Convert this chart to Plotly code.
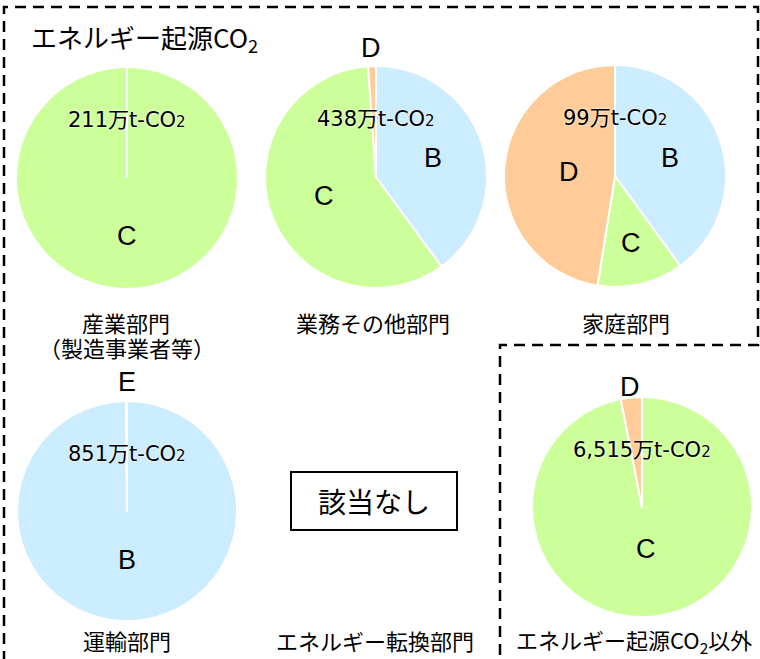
import plotly.graph_objects as go
import math

W, H = 760, 659

# ---- data ----
sectors = [["産業部門", "（製造事業者等）"], ["業務その他部門"], ["家庭部門"], ["運輸部門"],
           ["エネルギー起源CO<sub>2</sub>以外"]]
totals = ["211", "438", "99", "851", "6,515"]
labels_1 = ["C"]
values_1 = [211]
labels_2 = ["B", "C", "D"]
values_2 = [175, 258, 5]
labels_3 = ["B", "C", "D"]
values_3 = [39.6, 12.4, 47]
labels_4 = ["B", "E"]
values_4 = [850, 1]
labels_5 = ["C", "D"]
values_5 = [6313, 202]
empty_sector = "エネルギー転換部門"
empty_text = "該当なし"
main_title = "エネルギー起源CO<sub>2</sub>"

colors = {"B": "#CCECFF", "C": "#CCFF99", "D": "#FFCC99", "E": "#CCCCFF"}

# ---- layout (pixel geometry, label radial placement as fraction of radius) ----
pies = [
    dict(labels=labels_1, values=values_1, cx=127, cy=178, r=111, sector=sectors[0], total=totals[0],
         tx=126, ty=322, rho=[0.52]),
    dict(labels=labels_2, values=values_2, cx=376, cy=177, r=111, sector=sectors[1], total=totals[1],
         tx=373, ty=322, rho=[0.54, 0.5, 1.16]),
    dict(labels=labels_3, values=values_3, cx=615, cy=176, r=111, sector=sectors[2], total=totals[2],
         tx=626, ty=322, rho=[0.52, 0.62, 0.42]),
    dict(labels=labels_4, values=values_4, cx=127, cy=511, r=110, sector=sectors[3], total=totals[3],
         tx=127, ty=640, rho=[0.45, 1.17]),
    dict(labels=labels_5, values=values_5, cx=642, cy=507, r=110, sector=sectors[4], total=totals[4],
         tx=634, ty=640, rho=[0.38, 1.1]),
]

def px(x):
    return x / W

def py(y):
    return 1 - y / H

FONT = "Noto Sans CJK JP"
LATIN = "Liberation Sans, Noto Sans CJK JP"
TOTFONT = "DejaVu Sans, Noto Sans CJK JP"

fig = go.Figure()
annotations = []
shapes = []

for p in pies:
    cx, cy, r = p["cx"], p["cy"], p["r"]
    fig.add_trace(go.Pie(
        labels=p["labels"], values=p["values"], sort=False, direction="clockwise", rotation=0,
        marker=dict(colors=[colors[l] for l in p["labels"]], line=dict(color="white", width=2)),
        textinfo="none", hoverinfo="label+value", showlegend=False,
        domain=dict(x=[px(cx - r), px(cx + r)], y=[py(cy + r), py(cy - r)]),
    ))
    tot = sum(p["values"])
    cum = 0
    for lab, v, rho in zip(p["labels"], p["values"], p["rho"]):
        frac = v / tot
        mid = (cum + v / 2) / tot
        cum += v
        th = 2 * math.pi * mid
        if frac >= 0.999:
            th = math.pi
        x = cx + rho * r * math.sin(th)
        y = cy - rho * r * math.cos(th)
        annotations.append(dict(x=px(x), y=py(y), xref="paper", yref="paper", text=lab, showarrow=False,
                                font=dict(family=LATIN, size=27, color="black"), xanchor="center", yanchor="middle"))
    if len(p["values"]) == 1:
        shapes.append(dict(type="line", xref="paper", yref="paper", x0=px(cx), y0=py(cy), x1=px(cx), y1=py(cy - r),
                           line=dict(color="white", width=2)))
    annotations.append(dict(x=px(cx), y=py(cy - 0.52 * r), xref="paper", yref="paper",
                            text=p["total"] + "万t-CO<span style='font-size:15px'>2</span>", showarrow=False,
                            font=dict(family=TOTFONT, size=21, color="black", shadow="0px 0px 3px white"),
                            xanchor="center", yanchor="middle"))
    for i, line in enumerate(p["sector"]):
        annotations.append(dict(x=px(p["tx"] + (1 if i else 0)), y=py(p["ty"] + 25 * i), xref="paper", yref="paper",
                                text=line, showarrow=False,
                                font=dict(family=FONT, size=22, color="black"), xanchor="center", yanchor="middle"))

# empty sector
annotations.append(dict(x=px(375), y=py(640), xref="paper", yref="paper", text=empty_sector, showarrow=False,
                        font=dict(family=FONT, size=22, color="black"), xanchor="center", yanchor="middle"))
shapes.append(dict(type="rect", xref="paper", yref="paper", x0=px(291), x1=px(457), y0=py(530), y1=py(472),
                   line=dict(color="black", width=2), fillcolor="white"))
annotations.append(dict(x=px(374), y=py(501), xref="paper", yref="paper", text=empty_text, showarrow=False,
                        font=dict(family=FONT, size=28, color="black"), xanchor="center", yanchor="middle"))

# main title
annotations.append(dict(x=px(29), y=py(38), xref="paper", yref="paper", text=main_title, showarrow=False,
                        font=dict(family=FONT, size=26, color="black"), xanchor="left", yanchor="middle"))

# dashed frames
path = "M {} {} L {} {} L {} {} L {} {} L {} {} L {} {}".format(
    px(4), py(662), px(4), py(7), px(758), py(7), px(758), py(345), px(500), py(345), px(500), py(662))
shapes.append(dict(type="path", xref="paper", yref="paper", path=path,
                   line=dict(color="black", width=2.5, dash="11px,7px")))

fig.update_layout(width=W, height=H, margin=dict(l=0, r=0, t=0, b=0), paper_bgcolor="white",
                  annotations=annotations, shapes=shapes, font=dict(family=FONT))
fig.write_html("out.html", config=dict(displayModeBar=False),
               post_script="document.body.style.margin='0px';document.body.style.overflow='hidden';")
